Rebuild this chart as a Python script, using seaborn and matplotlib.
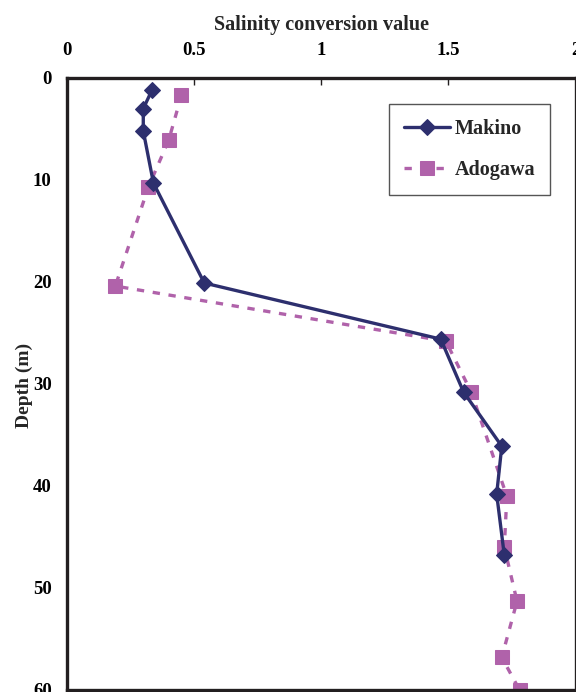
import numpy as np
import pandas as pd
import matplotlib
matplotlib.use("Agg")
import matplotlib.pyplot as plt
import seaborn as sns

# values
makino_depth = [1.2, 3.0, 5.2, 10.3, 20.1, 25.6, 30.8, 36.1, 40.8, 46.8]
makino_value = [0.334, 0.30, 0.30, 0.34, 0.54, 1.47, 1.56, 1.71, 1.69, 1.72]

adogawa_depth = [1.7, 6.1, 10.7, 20.4, 25.8, 30.8, 41.0, 46.0, 51.3, 56.8, 60.0]
adogawa_value = [0.45, 0.40, 0.32, 0.19, 1.49, 1.59, 1.73, 1.72, 1.77, 1.71, 1.78]

x_ticks = [0, 0.5, 1, 1.5, 2]
x_ticklabels = ["0", "0.5", "1", "1.5", "2"]
y_ticks = [0, 10, 20, 30, 40, 50, 60]

makino = pd.DataFrame({"value": makino_value, "depth": makino_depth})
adogawa = pd.DataFrame({"value": adogawa_value, "depth": adogawa_depth})

sns.set_style("white")
plt.rcParams["font.family"] = ["Liberation Serif", "DejaVu Serif"]
plt.rcParams["font.weight"] = "bold"

fig = plt.figure(figsize=(5.76, 6.92), dpi=100)
W, H = 576, 692
ax = fig.add_axes([67 / W, (H - 690) / H, (575.5 - 67) / W, (690 - 78) / H])

navy = "#2d2f6e"
pink = "#b062aa"

sns.lineplot(data=makino, x="value", y="depth", sort=False, estimator=None, ax=ax,
             color=navy, linewidth=2.4, marker="D", markersize=8,
             markeredgecolor=navy, label="Makino", zorder=3)
sns.lineplot(data=adogawa, x="value", y="depth", sort=False, estimator=None, ax=ax,
             color=pink, linewidth=2.4, linestyle=(0, (2.2, 2.6)),
             marker="s", markersize=9.5, markeredgecolor=pink,
             label="Adogawa", zorder=2)

ax.set_xlim(0, 2)
ax.set_ylim(60, 0)
ax.xaxis.tick_top()
ax.xaxis.set_label_position("top")
ax.set_xticks(x_ticks)
ax.set_xticklabels(x_ticklabels)
ax.set_yticks(y_ticks)
ax.tick_params(axis="both", direction="in", length=5, width=1,
               colors="#231f20", labelsize=13.5, pad=14)
ax.tick_params(axis="y", pad=11)
for lab in ax.get_xticklabels() + ax.get_yticklabels():
    lab.set_fontweight("bold")
    lab.set_color("black")

ax.set_xlabel("Salinity conversion value", fontsize=14.5, fontweight="bold", labelpad=8)
ax.set_ylabel("Depth (m)", fontsize=14, fontweight="bold")
ax.yaxis.set_label_coords(-0.066, 0.498)

for s in ax.spines.values():
    s.set_linewidth(2.4)
    s.set_color("#231f20")
    s.set_visible(True)

leg = ax.legend(loc="upper right", bbox_to_anchor=(0.95, 0.9575), frameon=True,
                fancybox=False, framealpha=1, edgecolor="#555555",
                prop={"family": "Liberation Serif", "weight": "bold", "size": 14.5},
                handlelength=2.3, handletextpad=0.2, labelspacing=1.05,
                borderpad=0.75, borderaxespad=0)
leg.get_frame().set_linewidth(1.0)

fig.savefig("out.png", dpi=100)
